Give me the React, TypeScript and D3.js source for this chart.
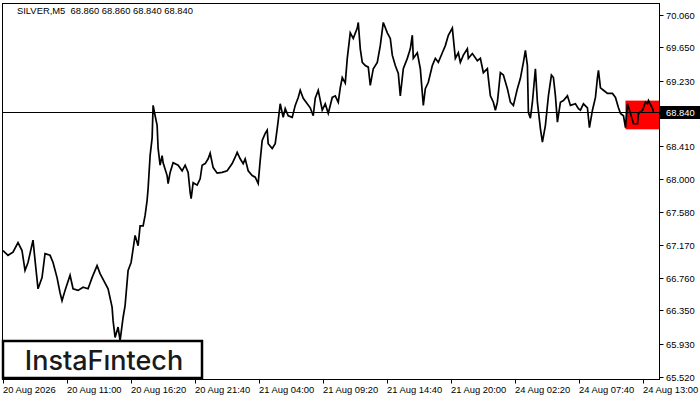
import React, { useEffect, useRef } from "react";
import * as d3 from "d3";

// 5-minute bars, counted from 20 Aug 2026 00:00 (one bar per pixel in the original)
const closeBars = [
  0, 5, 10, 15, 19, 22, 25, 30, 32, 35, 39, 42, 47, 50, 54, 57, 59, 62, 67, 70,
  75, 80, 85, 89, 94, 97, 102, 105, 109, 110, 112, 115, 117, 120, 122, 125, 128, 132, 135, 137,
  140, 142, 144, 145, 147, 149, 150, 152, 154, 155, 157, 159, 160, 164, 165, 167, 170, 175, 179, 182,
  185, 187, 188, 190, 194, 197, 199, 202, 205, 207, 210, 214, 219, 224, 229, 232, 234, 237, 240, 242,
  245, 249, 252, 255, 257, 259, 262, 264, 265, 269, 272, 274, 275, 277, 280, 282, 285, 289, 292, 295,
  297, 300, 304, 307, 310, 312, 315, 319, 322, 325, 329, 332, 335, 337, 339, 342, 344, 347, 350, 354,
  355, 357, 359, 362, 365, 367, 370, 374, 377, 380, 384, 387, 389, 392, 395, 397, 400, 404, 407, 409,
  410, 414, 417, 420, 422, 425, 429, 432, 435, 439, 442, 445, 449, 452, 455, 457, 460, 464, 465, 469,
  474, 477, 480, 484, 485, 487, 490, 492, 494, 495, 497, 500, 504, 507, 510, 514, 517, 520, 522, 524,
  525, 527, 529, 532, 534, 537, 539, 542, 545, 548, 550, 552, 554, 557, 560, 564, 567, 572, 575, 577,
  580, 584, 586, 589, 592, 594, 595, 597, 600, 604, 609, 612, 615, 617, 620, 622, 624, 627, 630, 634,
  635, 639, 642, 644, 645, 649, 650,
];

const closes = [
  67.1, 67.04, 67.08, 67.2, 67.1, 66.85, 66.95, 67.23, 66.98, 66.62, 66.76, 67.06, 67.04, 66.95, 66.76, 66.57, 66.47, 66.6, 66.79, 66.62,
  66.6, 66.64, 66.62, 66.76, 66.91, 66.81, 66.69, 66.62, 66.39, 66.22, 66.01, 66.14, 65.97, 66.26, 66.41, 66.85, 66.95, 67.29, 67.16, 67.41,
  67.41, 67.54, 67.73, 67.88, 68.29, 68.51, 68.92, 68.79, 68.67, 68.38, 68.17, 68.29, 68.2, 68.04, 67.94, 68.08, 68.2, 68.17, 68.1, 68.17,
  68.08, 67.83, 67.75, 67.95, 67.92, 68.0, 68.17, 68.19, 68.25, 68.32, 68.14, 68.07, 68.08, 68.1, 68.19, 68.27, 68.33, 68.25, 68.19, 68.25,
  68.1, 68.04, 68.02, 67.94, 68.23, 68.48, 68.57, 68.61, 68.44, 68.38, 68.44, 68.63, 68.73, 68.94, 68.77, 68.88, 68.79, 68.77, 68.92, 69.02,
  69.11, 69.01, 68.94, 68.89, 68.79, 69.01, 69.11, 68.86, 68.94, 68.82, 69.02, 69.04, 68.96, 69.14, 69.27, 69.2, 69.51, 69.83, 69.76, 69.89,
  69.96, 69.63, 69.46, 69.42, 69.4, 69.17, 69.38, 69.46, 69.67, 69.96, 69.83, 69.76, 69.55, 69.42, 69.32, 69.04, 69.38, 69.51, 69.63, 69.8,
  69.51, 69.58, 69.38, 68.92, 69.13, 69.21, 69.42, 69.51, 69.46, 69.58, 69.67, 69.8, 69.89, 69.51, 69.58, 69.46, 69.55, 69.63, 69.51, 69.57,
  69.48, 69.51, 69.33, 69.38, 69.26, 69.04, 68.96, 68.86, 68.96, 69.08, 69.33, 69.3, 69.13, 68.96, 68.92, 69.13, 69.26, 69.46, 69.61, 69.42,
  68.83, 68.76, 68.96, 69.38, 68.96, 68.63, 68.46, 68.67, 69.04, 69.3, 69.27, 69.04, 68.71, 68.96, 68.98, 69.04, 68.92, 68.94, 68.88, 68.86,
  68.94, 68.89, 68.64, 68.86, 69.02, 69.27, 69.36, 69.14, 69.11, 69.07, 69.07, 69.02, 68.89, 68.82, 68.79, 68.64, 68.94, 68.82, 68.69, 68.69,
  68.82, 68.86, 68.96, 68.94, 68.98, 68.88, 68.84,
];

const timeLabels = [
  "20 Aug 2026", "20 Aug 11:00", "20 Aug 16:20", "20 Aug 21:40", "21 Aug 04:00", "21 Aug 09:20",
  "21 Aug 14:40", "21 Aug 20:00", "24 Aug 02:20", "24 Aug 07:40", "24 Aug 13:00",
];

const priceTicks = [70.06, 69.65, 69.23, 68.41, 68.0, 67.58, 67.17, 66.76, 66.35, 65.93, 65.52];

const lastPrice = 68.84;
const patternBox = { fromBar: 622, high: 68.98, low: 68.62 };
const title = "SILVER,M5  68.860 68.860 68.840 68.840";

const W = 700;
const H = 400;
const font = "'Liberation Sans', Arial, sans-serif";
const fontSize = "9.4px";

export default function App() {
  const ref = useRef<SVGSVGElement>(null);

  useEffect(() => {
    const svg = d3.select(ref.current);
    svg.selectAll("*").remove();

    const left = 2.5;
    const right = 659.5;
    const top = 3.5;
    const bottom = 379.5;

    const x = d3.scaleLinear().domain([0, 656]).range([left + 0.5, right]);
    const y = d3.scaleLinear().domain([65.52, 70.06]).range([376.5, 14.5]);

    svg.append("rect").attr("width", W).attr("height", H).attr("fill", "#fff");

    // red pattern zone
    svg
      .append("rect")
      .attr("x", x(patternBox.fromBar))
      .attr("y", y(patternBox.high))
      .attr("width", right - x(patternBox.fromBar))
      .attr("height", y(patternBox.low) - y(patternBox.high))
      .attr("fill", "#ff0000");

    // current price line
    svg
      .append("line")
      .attr("x1", left)
      .attr("x2", right)
      .attr("y1", Math.round(y(lastPrice)) + 0.5)
      .attr("y2", Math.round(y(lastPrice)) + 0.5)
      .attr("stroke", "#000")
      .attr("stroke-width", 1);

    // close line
    const pts = closeBars.map((b, i) => [b, closes[i]] as [number, number]);
    const line = d3
      .line<[number, number]>()
      .x((d) => x(d[0]))
      .y((d) => y(d[1]));
    svg
      .append("path")
      .attr("d", line(pts))
      .attr("fill", "none")
      .attr("stroke", "#000")
      .attr("stroke-width", 1.7)
      .attr("stroke-linejoin", "miter");

    // frame
    svg
      .append("rect")
      .attr("x", left)
      .attr("y", top)
      .attr("width", right - left)
      .attr("height", bottom - top)
      .attr("fill", "none")
      .attr("stroke", "#000");

    // right axis
    const yAxis = svg.append("g");
    priceTicks.forEach((p) => {
      const py = Math.round(y(p)) + 0.5;
      yAxis
        .append("line")
        .attr("x1", right)
        .attr("x2", right + 4)
        .attr("y1", py)
        .attr("y2", py)
        .attr("stroke", "#000");
      yAxis
        .append("text")
        .attr("x", 666)
        .attr("y", py + 3.5)
        .text(p.toFixed(3))
        .style("font-family", font)
        .style("font-size", fontSize)
        .style("fill", "#000");
    });

    // last price label
    const ly = Math.round(y(lastPrice)) + 0.5;
    svg
      .append("rect")
      .attr("x", right + 0.5)
      .attr("y", ly - 6.5)
      .attr("width", W - right)
      .attr("height", 13)
      .attr("fill", "#000");
    svg
      .append("text")
      .attr("x", 666)
      .attr("y", ly + 3.5)
      .text(lastPrice.toFixed(3))
      .style("font-family", font)
      .style("font-size", fontSize)
      .style("fill", "#fff");

    // bottom axis
    const xAxis = svg.append("g");
    timeLabels.forEach((t, i) => {
      const px = Math.round(x(i * 64)) + 0.5;
      xAxis
        .append("line")
        .attr("x1", px)
        .attr("x2", px)
        .attr("y1", bottom)
        .attr("y2", bottom + 4)
        .attr("stroke", "#000");
      xAxis
        .append("text")
        .attr("x", px - 0.5)
        .attr("y", 393)
        .text(t)
        .style("font-family", font)
        .style("font-size", fontSize)
        .style("fill", "#000");
    });

    // title
    svg
      .append("text")
      .attr("x", 17)
      .attr("y", 13.5)
      .text(title)
      .attr("xml:space", "preserve")
      .style("white-space", "pre")
      .style("font-family", font)
      .style("font-size", fontSize)
      .style("fill", "#000");

    // logo
    svg
      .append("rect")
      .attr("x", 3)
      .attr("y", 341)
      .attr("width", 199)
      .attr("height", 37)
      .attr("fill", "#fff")
      .attr("stroke", "#000")
      .attr("stroke-width", 2.5);
    svg
      .append("text")
      .attr("x", 104)
      .attr("y", 369.5)
      .attr("text-anchor", "middle")
      .text("InstaF\u0131ntech")
      .style("font-family", "Inter, sans-serif")
      .style("font-weight", 500)
      .style("font-size", "27px")
      .style("fill", "#1a1a1a");
  }, []);

  return (
    <svg
      ref={ref}
      width={W}
      height={H}
      style={{ position: "absolute", left: 0, top: 0, display: "block" }}
    />
  );
}
